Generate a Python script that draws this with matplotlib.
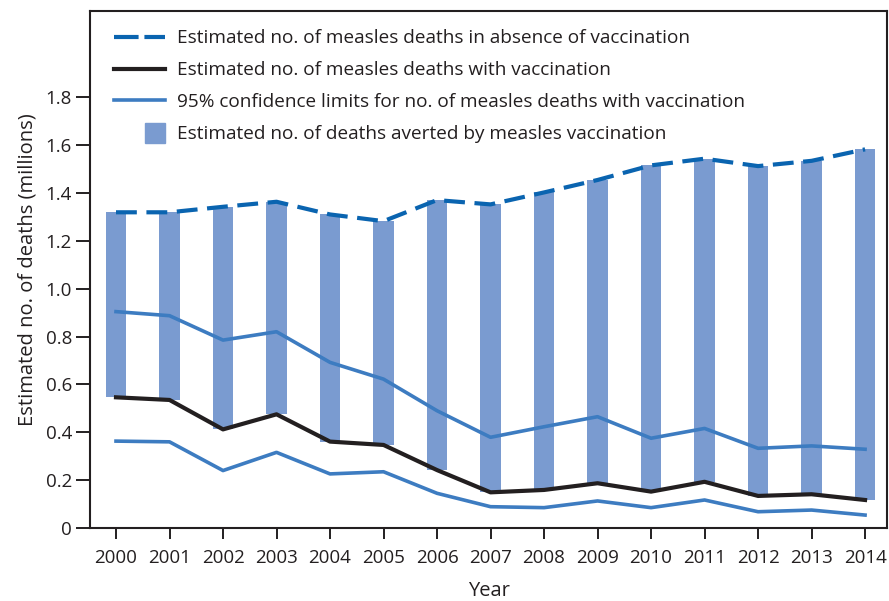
import matplotlib
matplotlib.use("Agg")
import matplotlib.pyplot as plt
from matplotlib.patches import Rectangle
from matplotlib.lines import Line2D
from matplotlib.legend_handler import HandlerPatch

plt.rcParams['font.family'] = ['Open Sans', 'DejaVu Sans']

years = [2000, 2001, 2002, 2003, 2004, 2005, 2006, 2007, 2008, 2009, 2010, 2011, 2012, 2013, 2014]
no_vacc = [1.319, 1.319, 1.342, 1.363, 1.310, 1.282, 1.370, 1.352, 1.402, 1.454, 1.515, 1.543, 1.512, 1.534, 1.582]
with_vacc = [0.546, 0.535, 0.412, 0.475, 0.361, 0.347, 0.242, 0.149, 0.159, 0.187, 0.152, 0.193, 0.134, 0.141, 0.117]
upper_ci = [0.904, 0.887, 0.785, 0.820, 0.692, 0.622, 0.490, 0.379, 0.423, 0.465, 0.375, 0.416, 0.333, 0.343, 0.329]
lower_ci = [0.363, 0.360, 0.240, 0.316, 0.226, 0.235, 0.145, 0.089, 0.085, 0.113, 0.085, 0.117, 0.068, 0.075, 0.054]

dark = "#231f20"
c_dash = "#0a64b0"
c_ci = "#3d7cc1"
c_bar = "#7a9bd0"

fig = plt.figure(figsize=(8.89, 6.01), dpi=100)
ax = fig.add_axes([90/889, 73/601, 797/889, 517/601])

averted = [a - b for a, b in zip(no_vacc, with_vacc)]
ax.bar(years, averted, bottom=with_vacc, width=0.39, color=c_bar, zorder=1)
ax.plot(years, upper_ci, color=c_ci, lw=2.6, zorder=2)
ax.plot(years, lower_ci, color=c_ci, lw=2.6, zorder=2)
ax.plot(years, with_vacc, color=dark, lw=3.0, zorder=3)
ax.plot(years, no_vacc, color=c_dash, lw=3.0, dashes=(5, 2.3), zorder=4)

ax.set_xlim(1999.514, 2014.41)
ax.set_ylim(0, 2.16)
ax.set_xticks(years)
ax.set_yticks([0, 0.2, 0.4, 0.6, 0.8, 1.0, 1.2, 1.4, 1.6, 1.8])
ax.set_yticklabels(["0", "0.2", "0.4", "0.6", "0.8", "1.0", "1.2", "1.4", "1.6", "1.8"])
ax.tick_params(axis='both', direction='out', width=1.4, color=dark,
               labelsize=13.5, labelcolor=dark)
ax.tick_params(axis='x', length=8, pad=7)
ax.tick_params(axis='y', length=10, pad=3)
for s in ax.spines.values():
    s.set_linewidth(1.5)
    s.set_color(dark)

ax.set_xlabel("Year", fontsize=14.5, color=dark, labelpad=10.5)
ax.set_ylabel("Estimated no. of deaths (millions)", fontsize=14.5, color=dark, labelpad=6)


def right_square(legend, orig_handle, xdescent, ydescent, width, height, fontsize):
    return Rectangle((width - height * 1.5 - xdescent, -ydescent - height * 0.35),
                     height * 1.5, height * 1.5)


handles = [
    Line2D([], [], color=c_dash, lw=3.0, dashes=(5.9, 1.4)),
    Line2D([], [], color=dark, lw=3.0),
    Line2D([], [], color=c_ci, lw=2.6),
    Rectangle((0, 0), 1, 1, color=c_bar),
]
labels = [
    "Estimated no. of measles deaths in absence of vaccination",
    "Estimated no. of measles deaths with vaccination",
    "95% confidence limits for no. of measles deaths with vaccination",
    "Estimated no. of deaths averted by measles vaccination",
]
leg = ax.legend(handles, labels, loc='upper left', frameon=False, fontsize=13.7,
                handlelength=2.7, handletextpad=0.63, labelspacing=0.72,
                bbox_to_anchor=(0.0206, 0.979), borderaxespad=0,
                handler_map={Rectangle: HandlerPatch(patch_func=right_square)})
for t in leg.get_texts():
    t.set_color(dark)

fig.savefig("out.png", dpi=100)
